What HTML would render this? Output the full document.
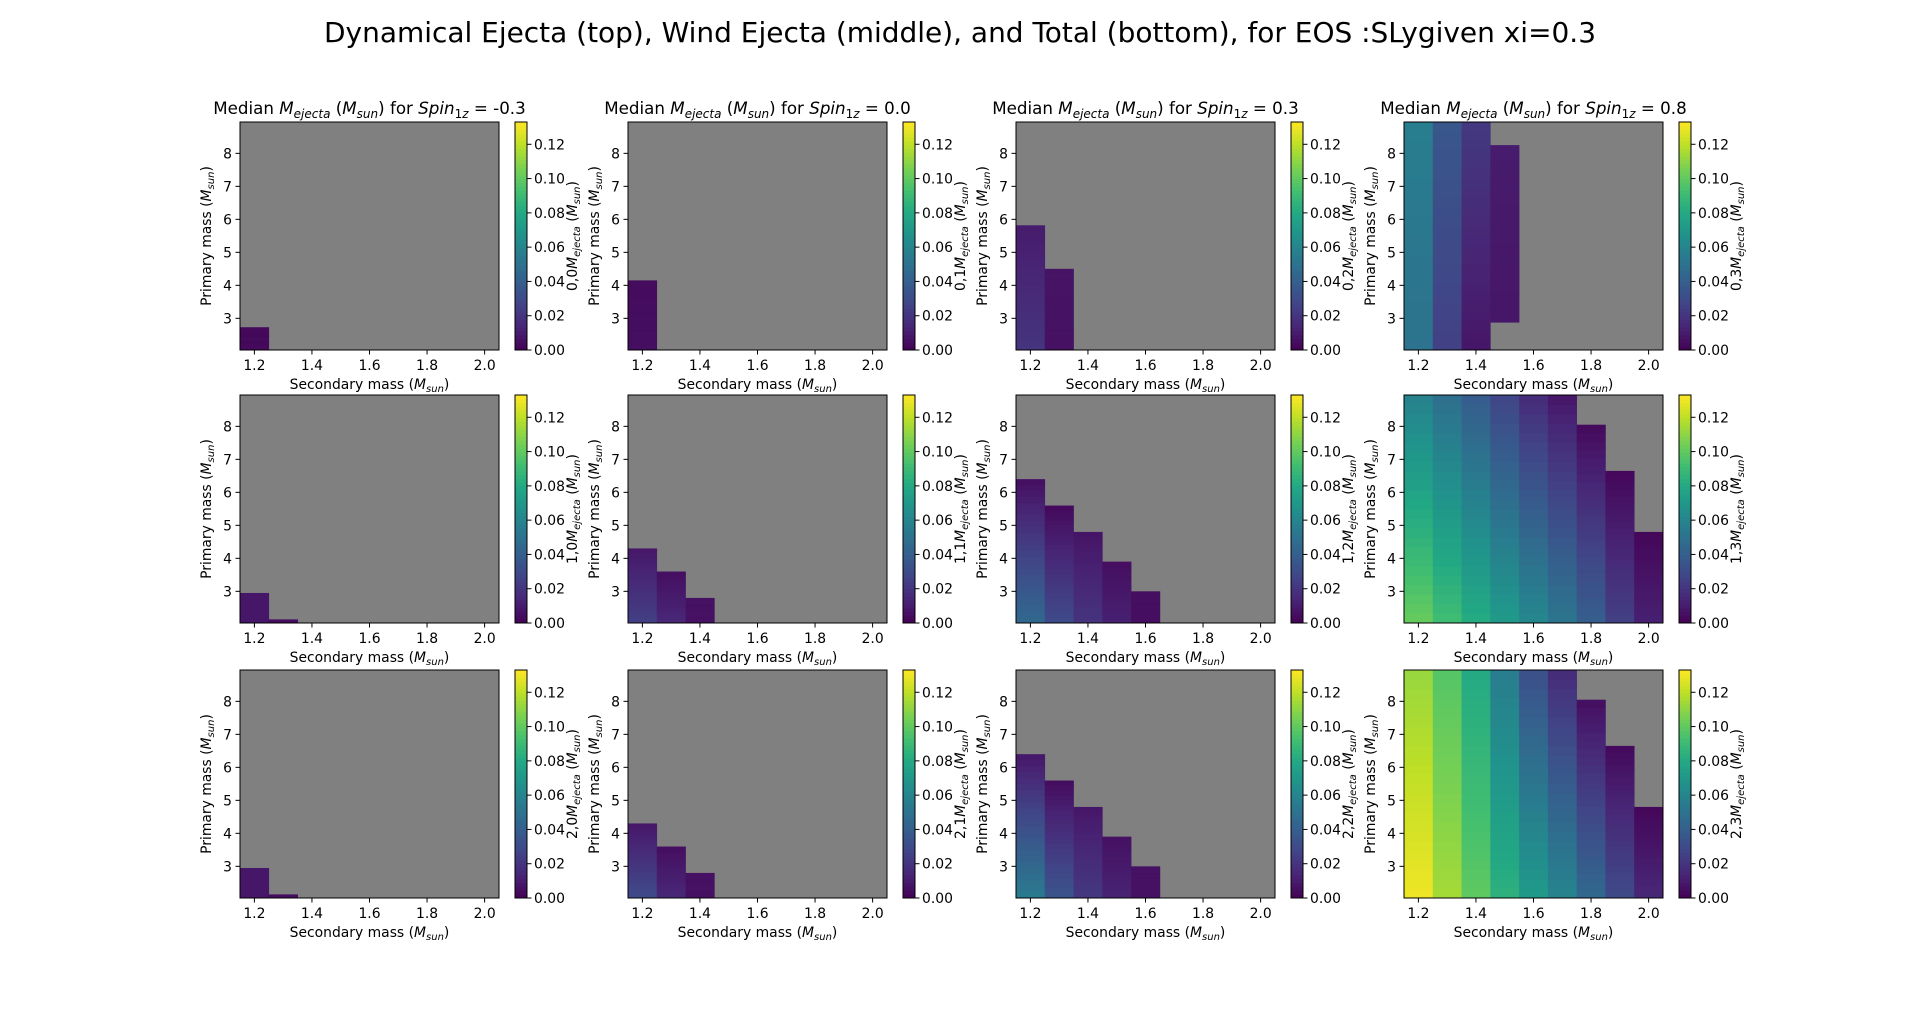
<!DOCTYPE html>
<html><head><meta charset="utf-8">
<style>
html,body{margin:0;padding:0;background:#fff;}
svg{display:block;font-family:"DejaVu Sans","Liberation Sans",sans-serif;}
</style></head>
<body>
<svg id="fig" width="1920" height="1009" viewBox="0 0 1920 1009">
<text x="960" y="42" text-anchor="middle" font-size="28" textLength="1272" lengthAdjust="spacingAndGlyphs" fill="#000">Dynamical Ejecta (top), Wind Ejecta (middle), and Total (bottom),  for EOS :SLygiven xi=0.3</text>
</svg>
<script>
// ---- data ----
const spins = ["-0.3", "0.0", "0.3", "0.8"];
const secondaryMasses = [1.2, 1.3, 1.4, 1.5, 1.6, 1.7, 1.8, 1.9, 2.0];
const xTicks = [1.2, 1.4, 1.6, 1.8, 2.0];
const xTickLabels = ["1.2", "1.4", "1.6", "1.8", "2.0"];
const yTicks = [3, 4, 5, 6, 7, 8];
const cTicks = [0, 0.02, 0.04, 0.06, 0.08, 0.10, 0.12];
const cTickLabels = ["0.00", "0.02", "0.04", "0.06", "0.08", "0.10", "0.12"];
// each cell column: [primaryMin, primaryMax, valueAtBottom, valueAtTop] or null
const dyn_m03 = [[2.04,2.73,0.003,0.003],null,null,null,null,null,null,null,null];
const dyn_00 = [[2.04,4.15,0.005,0.004],null,null,null,null,null,null,null,null];
const dyn_03 = [[2.04,5.82,0.02,0.01],[2.04,4.5,0.006,0.007],null,null,null,null,null,null,null];
const dyn_08 = [[2.04,8.95,0.05,0.056],[2.04,8.95,0.025,0.036],[2.04,8.95,0.008,0.022],[2.88,8.25,0.008,0.01],null,null,null,null,null];
const wind_m03 = [[2.04,2.95,0.008,0.008],[2.04,2.15,0.005,0.005],null,null,null,null,null,null,null];
const wind_00 = [[2.04,4.3,0.025,0.008],[2.04,3.6,0.015,0.005],[2.04,2.8,0.006,0.006],null,null,null,null,null,null];
const wind_03 = [[2.04,6.4,0.045,0.005],[2.04,5.6,0.03,0.003],[2.04,4.8,0.02,0.007],[2.04,3.9,0.012,0.005],[2.04,3.0,0.005,0.005],null,null,null,null];
const wind_08 = [[2.04,8.95,0.102,0.058],[2.04,8.95,0.092,0.048],[2.04,8.95,0.082,0.038],[2.04,8.95,0.072,0.027],[2.04,8.95,0.062,0.016],[2.04,8.95,0.052,0.008],[2.04,8.05,0.04,0.003],[2.04,6.65,0.025,0.002],[2.04,4.8,0.012,0.002]];
const tot_m03 = [[2.04,2.95,0.008,0.008],[2.04,2.15,0.005,0.005],null,null,null,null,null,null,null];
const tot_00 = [[2.04,4.3,0.03,0.008],[2.04,3.6,0.015,0.005],[2.04,2.8,0.006,0.006],null,null,null,null,null,null];
const tot_03 = [[2.04,6.4,0.055,0.008],[2.04,5.6,0.035,0.004],[2.04,4.8,0.022,0.008],[2.04,3.9,0.013,0.006],[2.04,3.0,0.006,0.006],null,null,null,null];
const tot_08 = [[2.04,8.95,0.13,0.112],[2.04,8.95,0.115,0.097],[2.04,8.95,0.1,0.08],[2.04,8.95,0.085,0.055],[2.04,8.95,0.072,0.032],[2.04,8.95,0.06,0.016],[2.04,8.05,0.045,0.005],[2.04,6.65,0.03,0.003],[2.04,4.8,0.015,0.002]];
const panelData = [[dyn_m03,dyn_00,dyn_03,dyn_08],[wind_m03,wind_00,wind_03,wind_08],[tot_m03,tot_00,tot_03,tot_08]];

const NS = "http://www.w3.org/2000/svg";
const svg = document.getElementById("fig");
const VMAX = 0.133;
const vir = [[68,1,84],[72,36,117],[65,68,135],[53,95,141],[42,120,142],[33,145,140],[34,168,132],[68,191,112],[122,209,81],[189,223,38],[253,231,37]];
function viridis(v){
  let t = Math.max(0, Math.min(1, v / VMAX)) * (vir.length - 1);
  const i = Math.min(vir.length - 2, Math.floor(t)); const f = t - i;
  const c = vir[i].map((a, k) => Math.round(a + (vir[i+1][k] - a) * f));
  return "rgb(" + c.join(",") + ")";
}
function el(tag, attrs, parent){
  const e = document.createElementNS(NS, tag);
  for (const k in attrs) e.setAttribute(k, attrs[k]);
  (parent || svg).appendChild(e); return e;
}
const colLeft = [240, 628, 1016, 1404];
const rowTop = [122, 395, 670];
const W = 259, H = 228;
const X0 = 1.15, X1 = 2.05, Y0 = 2.04, Y1 = 8.95;

for (let r = 0; r < 3; r++) {
  for (let c = 0; c < 4; c++) {
    const L = colLeft[c], T = rowTop[r];
    const sx = v => L + (v - X0) / (X1 - X0) * W;
    const sy = v => T + H - (v - Y0) / (Y1 - Y0) * H;
    const g = el("g", {});
    
    
    const bg = el("rect", {x:L, y:T, width:W, height:H, fill:"#808080"}, g);
    
    
    const data = panelData[r][c];
    data.forEach((cell, i) => {
      if (!cell) return;
      const xa = sx(secondaryMasses[i] - 0.05), xb = sx(secondaryMasses[i] + 0.05);
      const N = 24;
      for (let k = 0; k < N; k++) {
        const p0 = cell[0] + (cell[1] - cell[0]) * k / N;
        const p1 = cell[0] + (cell[1] - cell[0]) * (k + 1) / N;
        const v = cell[2] + (cell[3] - cell[2]) * (k + 0.5) / N;
        const rc = el("rect", {x:xa, y:sy(p1), width:xb - xa + 0.3, height:sy(p0) - sy(p1) + 0.3, fill:viridis(v)}, g);
        
        
      }
    });
    const fr = el("rect", {x:L, y:T, width:W, height:H, fill:"none", stroke:"#000", "stroke-width":1}, g);
    
    
    xTicks.forEach((t, i) => {
      const x = sx(t);
      el("line", {x1:x, x2:x, y1:T+H, y2:T+H+4.5, stroke:"#000"}, g);
      const tx = el("text", {x:x, y:T+H+20, "text-anchor":"middle", "font-size":13.9}, g);
      tx.textContent = xTickLabels[i];
      
      
    });
    yTicks.forEach(t => {
      const y = sy(t);
      el("line", {x1:L-4.5, x2:L, y1:y, y2:y, stroke:"#000"}, g);
      const ty = el("text", {x:L-8, y:y+5, "text-anchor":"end", "font-size":13.9}, g);
      ty.textContent = String(t);
      
      
    });
    const xl = el("text", {x:L+W/2, y:T+H+39, "text-anchor":"middle", "font-size":13.9}, g);
    xl.innerHTML = 'Secondary mass (<tspan font-style="italic">M</tspan><tspan font-style="italic" font-size="10" dy="3">sun</tspan><tspan dy="-3">)</tspan>';
    
    
    const yl = el("text", {transform:"translate(" + (L-29) + "," + (T+H/2) + ") rotate(-90)", "text-anchor":"middle", "font-size":13.9}, g);
    yl.innerHTML = 'Primary mass (<tspan font-style="italic">M</tspan><tspan font-style="italic" font-size="10" dy="3">sun</tspan><tspan dy="-3">)</tspan>';
    
    
    if (r === 0) {
      const tt = el("text", {x:L+W/2, y:T-8, "text-anchor":"middle", "font-size":16.7}, g);
      tt.innerHTML = 'Median <tspan font-style="italic">M</tspan><tspan font-style="italic" font-size="12" dy="4">ejecta</tspan><tspan dy="-4"> (</tspan><tspan font-style="italic">M</tspan><tspan font-style="italic" font-size="12" dy="4">sun</tspan><tspan dy="-4">) for </tspan><tspan font-style="italic">Spin</tspan><tspan font-size="12" dy="4">1</tspan><tspan font-style="italic" font-size="12">z</tspan><tspan dy="-4"> = ' + spins[c] + '</tspan>';
      
      
    }
    // colorbar
    const cx = L + 275, cw = 12;
    const cb = el("g", {}, g);
    
    
    const NB = 60;
    for (let k = 0; k < NB; k++) {
      el("rect", {x:cx, y:T + H - (k+1)*H/NB, width:cw, height:H/NB + 0.4, fill:viridis((k + 0.5) / NB * VMAX)}, cb);
    }
    el("rect", {x:cx, y:T, width:cw, height:H, fill:"none", stroke:"#000", "stroke-width":1}, cb);
    cTicks.forEach((t, i) => {
      const y = T + H - t / VMAX * H;
      el("line", {x1:cx+cw, x2:cx+cw+4.5, y1:y, y2:y, stroke:"#000"}, cb);
      const ct = el("text", {x:cx+cw+7, y:y+5, "font-size":13.9}, cb);
      ct.textContent = cTickLabels[i];
      
      
    });
    const cl = el("text", {transform:"translate(" + (cx+cw+50) + "," + (T+H/2) + ") rotate(-90)", "text-anchor":"middle", "font-size":13.9}, cb);
    cl.innerHTML = r + ',' + c + '<tspan font-style="italic">M</tspan><tspan font-style="italic" font-size="10" dy="3">ejecta</tspan><tspan dy="-3"> (</tspan><tspan font-style="italic">M</tspan><tspan font-style="italic" font-size="10" dy="3">sun</tspan><tspan dy="-3">)</tspan>';
    
    
  }
}
</script>
</body></html>
